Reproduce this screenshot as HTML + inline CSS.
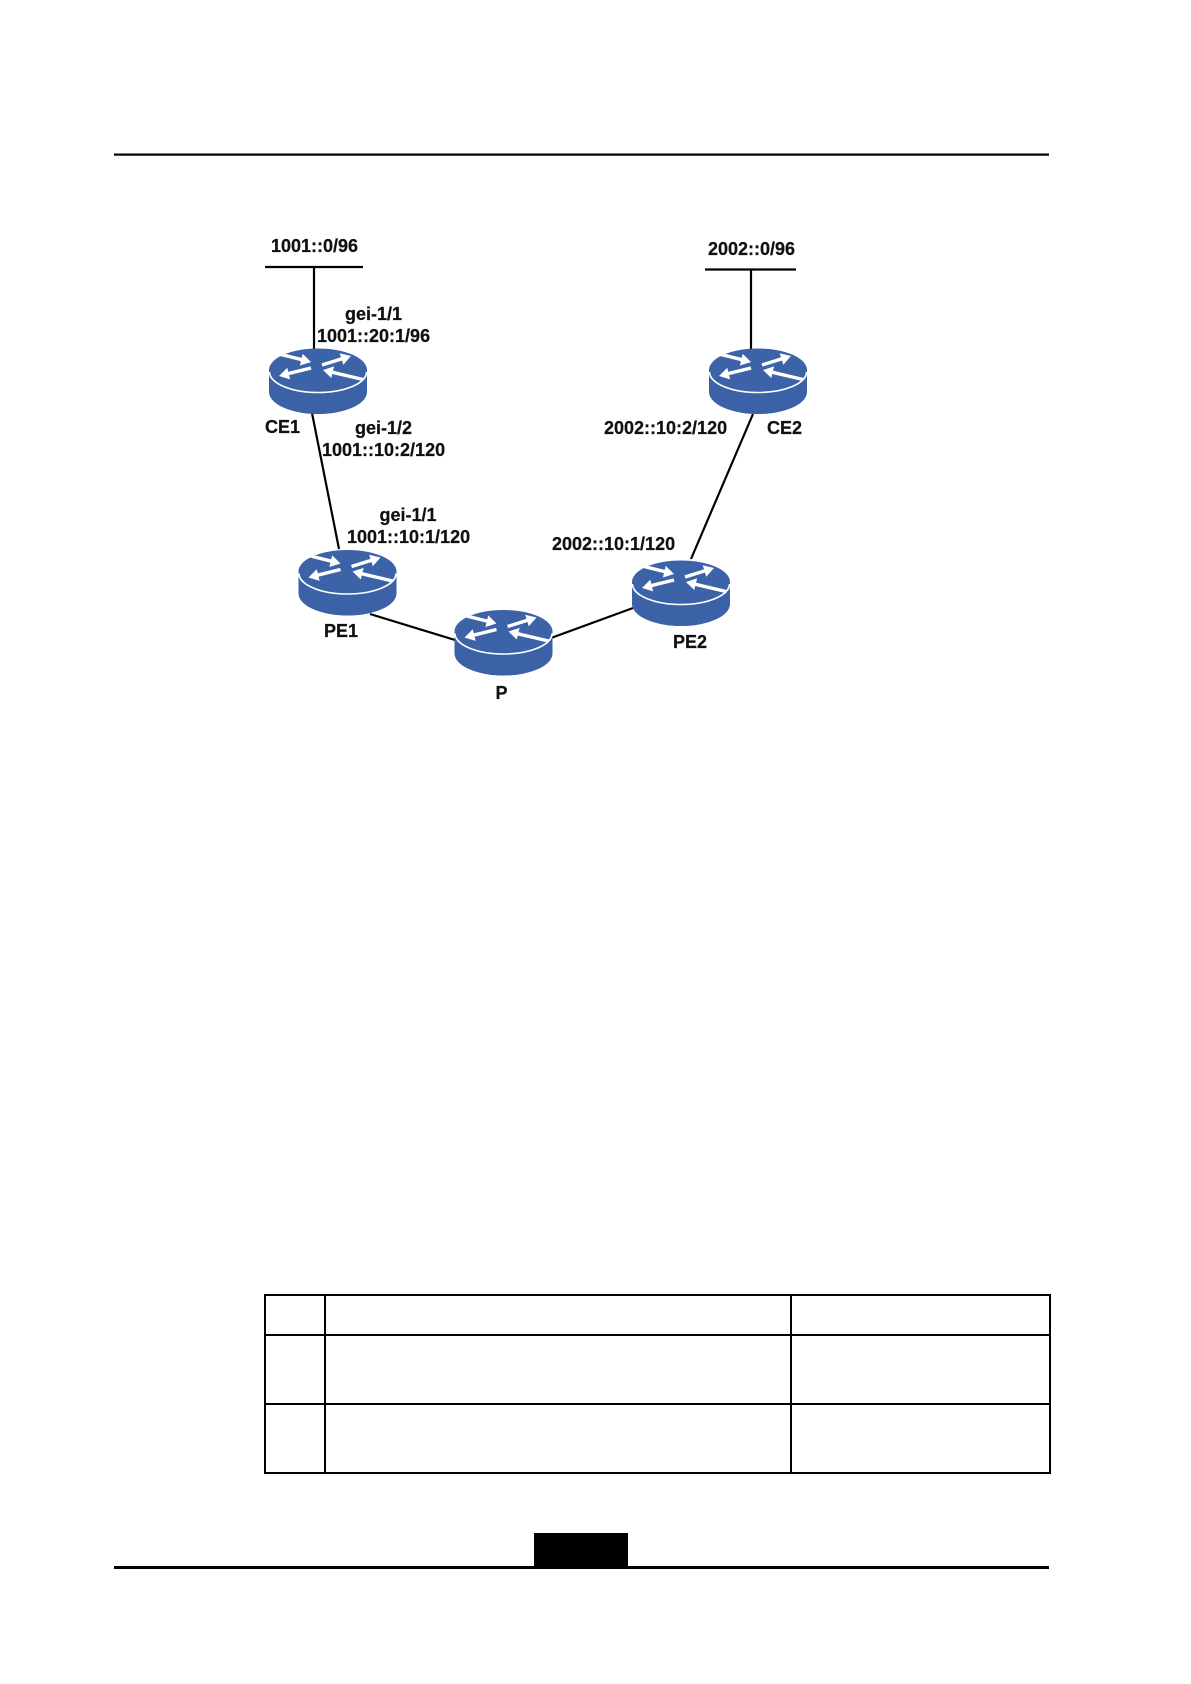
<!DOCTYPE html>
<html>
<head>
<meta charset="utf-8">
<style>
html,body{margin:0;padding:0;background:#fff;width:1191px;height:1684px;overflow:hidden}
svg{display:block}
text{font-family:"Liberation Sans",Arial,sans-serif;font-weight:bold;font-size:18px;fill:#111;stroke:#111;stroke-width:.25}
</style>
</head>
<body>
<svg width="1191" height="1684" viewBox="0 0 1191 1684" xmlns="http://www.w3.org/2000/svg">
<defs>
<g id="router">
  <path d="M0 22 V44 A49 22 0 0 0 98 44 V22 Z" fill="#3b62a6"/>
  <ellipse cx="49" cy="22" rx="49" ry="21.5" fill="#3c63a8"/>
  <path d="M0.5 24 A48.5 20.5 0 0 0 97.5 24" fill="none" stroke="#fff" stroke-width="1.6"/>
  <g stroke="#fff" stroke-width="3.4" fill="none">
    <line x1="12" y1="6.5" x2="33" y2="11.7"/>
    <line x1="42" y1="20" x2="19" y2="25.7"/>
    <line x1="53" y1="17" x2="73" y2="10.8"/>
    <line x1="94" y1="31.500" x2="63" y2="24.2"/>
  </g>
  <g fill="#fff">
    <polygon points="42,14 30.9,17.5 33.7,5.9"/>
    <polygon points="10,28 21.1,31.4 18.3,19.8"/>
    <polygon points="82,8 74.3,16.7 70.7,5.3"/>
    <polygon points="54,22 65.1,18.4 62.3,30"/>
  </g>
</g>
</defs>

<!-- page rules -->
<rect x="114" y="153.5" width="935" height="2.2" fill="#000"/>
<rect x="114" y="1566" width="935" height="3" fill="#000"/>
<rect x="534" y="1533" width="94" height="34" fill="#000"/>

<!-- connectors -->
<g stroke="#000" stroke-width="2.2" fill="none">
  <line x1="265" y1="267" x2="363" y2="267"/>
  <line x1="314" y1="267" x2="314" y2="349"/>
  <line x1="705" y1="269.500" x2="796" y2="269.500"/>
  <line x1="751" y1="269" x2="751" y2="349"/>
  <line x1="312" y1="413" x2="339" y2="549"/>
  <line x1="370" y1="614" x2="455" y2="640"/>
  <line x1="551" y1="638" x2="633" y2="608"/>
  <line x1="753" y1="414" x2="691" y2="559"/>
</g>

<!-- routers -->
<use href="#router" x="269" y="348"/>
<use href="#router" x="298.500" y="549.500"/>
<use href="#router" x="454.500" y="609.500"/>
<use href="#router" x="709" y="348"/>
<use href="#router" x="632" y="560"/>

<!-- labels -->
<text x="271" y="252">1001::0/96</text>
<text x="345" y="320">gei-1/1</text>
<text x="317" y="342">1001::20:1/96</text>
<text x="265" y="433">CE1</text>
<text x="355" y="434">gei-1/2</text>
<text x="322" y="456">1001::10:2/120</text>
<text x="379.500" y="521">gei-1/1</text>
<text x="347" y="543">1001::10:1/120</text>
<text x="324" y="637">PE1</text>
<text x="495.500" y="699">P</text>
<text x="708" y="255">2002::0/96</text>
<text x="604" y="434">2002::10:2/120</text>
<text x="767" y="434">CE2</text>
<text x="552" y="550">2002::10:1/120</text>
<text x="673" y="648">PE2</text>

<!-- table -->
<g fill="#000">
  <rect x="264" y="1294" width="787" height="2"/>
  <rect x="264" y="1334" width="787" height="2"/>
  <rect x="264" y="1403" width="787" height="2"/>
  <rect x="264" y="1472" width="787" height="2"/>
  <rect x="264" y="1294" width="2" height="180"/>
  <rect x="324" y="1294" width="2" height="180"/>
  <rect x="790" y="1294" width="2" height="180"/>
  <rect x="1049" y="1294" width="2" height="180"/>
</g>
</svg>
</body>
</html>
